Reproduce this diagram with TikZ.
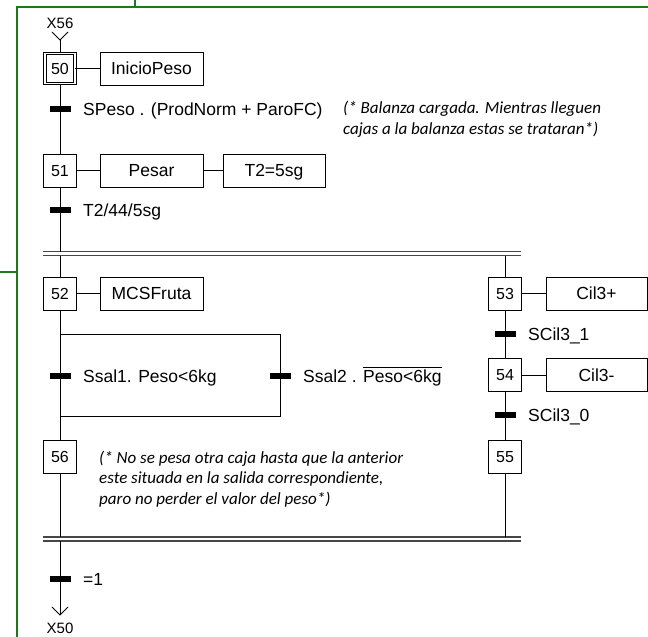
\documentclass[tikz,border=0pt]{standalone}
\usepackage{fontspec}
\setmainfont{Liberation Sans}
\newfontfamily\notefont{Carlito}
% negated variable: text with a bar over it
\newcommand\barred[1]{\leavevmode\vbox{\hrule height 0.9pt\kern1.6pt\hbox{#1}}}
\definecolor{framegreen}{RGB}{28,122,28}
\definecolor{syncgray}{RGB}{70,70,70}
\begin{document}
\begin{tikzpicture}[x=1pt,y=-1pt,
  every node/.style={font=\fontsize{17.5}{20}\selectfont},
  stepbox/.style={draw, line width=0.9pt, minimum width=33pt, minimum height=33pt, inner sep=0pt, text height=11.5pt, text depth=0pt, font=\fontsize{16}{18}\selectfont},
  initstep/.style={draw, line width=0.8pt, double, double distance=1.8pt, minimum size=30pt, inner sep=0pt, text height=11.5pt, text depth=0pt, font=\fontsize{16}{18}\selectfont},
  actbox/.style={draw, line width=0.9pt, minimum height=33pt, inner sep=0pt, text height=12.6pt, text depth=0pt},
  trans/.style={fill=black, minimum width=21pt, minimum height=5.5pt, inner sep=0pt},
  tlabel/.style={anchor=base west, inner sep=0pt},
  reflabel/.style={inner sep=0pt, font=\fontsize{15}{18}\selectfont},
  link/.style={line width=0.8pt},
  sync/.style={line width=1.3pt, draw=syncgray},
  note/.style={font=\notefont\itshape\fontsize{17}{20.5}\selectfont, align=left, inner sep=0pt, anchor=west},
  frame/.style={line width=2pt, draw=framegreen}]
\useasboundingbox (0,0) rectangle (648,637);

% enclosing frame
\draw[frame] (17,637) -- (17,7) -- (648,7);
\draw[frame] (135,0) -- (135,7);
\draw[frame] (0,272) -- (17,272);

% entry reference
\node[reflabel] (in56) at (60,23) {X56};
\coordinate (in56tip) at (60,40);
\draw[link] (52,32) -- (in56tip) -- (68,32);

% main sequence
\node[initstep] (s50) at (60,68.5) {50};
\node[actbox, minimum width=103pt] (a50) at (151.5,68.5) {InicioPeso};
\node[trans] (t1) at (60,109) {};
\node[tlabel] (l1) at (83,115) {SPeso . (ProdNorm + ParoFC)};
\node[note] (n1) at (343,119.5) {(* Balanza cargada. Mientras lleguen\\cajas a la balanza estas se trataran*)};

\node[stepbox] (s51) at (60,170.5) {51};
\node[actbox, minimum width=103pt] (a51) at (151.5,170.5) {Pesar};
\node[actbox, minimum width=102pt] (a51b) at (274,170.5) {T2=5sg};
\node[trans] (t2) at (60,210) {};
\node[tlabel] (l2) at (83,216) {T2/44/5sg};

% simultaneous divergence
\coordinate (divL1) at (60,251.5);
\coordinate (divL2) at (60,255.5);
\coordinate (divR2) at (505,255.5);
\draw[sync] (43,251.5) -- (521,251.5);
\draw[sync] (43,255.5) -- (521,255.5);

% left branch
\node[stepbox] (s52) at (60,293.5) {52};
\node[actbox, minimum width=103pt] (a52) at (151.5,293.5) {MCSFruta};
\coordinate (selL) at (60,334);
\coordinate (selR) at (280,334);
\coordinate (joinL) at (60,416);
\coordinate (joinR) at (280,416);
\node[trans] (t3) at (60,376) {};
\node[trans] (t4) at (280,376) {};
\node[tlabel] (l3) at (83,382) {Ssal1. Peso<6kg};
\node[tlabel] (l4) at (303,382) {Ssal2 . \barred{Peso<6kg}};
\node[stepbox] (s56) at (60,457) {56};
\node[note] (n2) at (99,479) {(* No se pesa otra caja hasta que la anterior\\este situada en la salida correspondiente,\\paro no perder el valor del peso*)};

% right branch
\node[stepbox] (s53) at (505,293.5) {53};
\node[actbox, minimum width=101pt] (a53) at (596.5,293.5) {Cil3+};
\node[trans] (t5) at (505,334) {};
\node[tlabel] (l5) at (528,340) {SCil3\_1};
\node[stepbox] (s54) at (505,375) {54};
\node[actbox, minimum width=101pt] (a54) at (596.5,375) {Cil3-};
\node[trans] (t6) at (505,415) {};
\node[tlabel] (l6) at (528,421) {SCil3\_0};
\node[stepbox] (s55) at (505,457) {55};

% simultaneous convergence
\coordinate (cvL1) at (60,537);
\coordinate (cvR1) at (505,537);
\coordinate (cvL2) at (60,541);
\draw[sync] (43,537) -- (521,537);
\draw[sync] (43,541) -- (521,541);

\node[trans] (t7) at (60,579) {};
\node[tlabel] (l7) at (83,585) {=1};
\coordinate (out50tip) at (60,615);
\draw[link] (52,607) -- (out50tip) -- (68,607);
\node[reflabel] (out50) at (60,628) {X50};

% connectors
\draw[link] (in56tip) -- (s50);
\draw[link] (s50) -- (t1) -- (s51) -- (t2) -- (divL1);
\draw[link] (divL2) -- (s52) -- (s56) -- (cvL1);
\draw[link] (selL) -- (selR) -- (joinR) -- (joinL);
\draw[link] (divR2) -- (s53) -- (t5) -- (s54) -- (t6) -- (s55) -- (cvR1);
\draw[link] (cvL2) -- (t7) -- (out50tip);
\draw[link] (s50) -- (a50);
\draw[link] (s51) -- (a51) -- (a51b);
\draw[link] (s52) -- (a52);
\draw[link] (s53) -- (a53);
\draw[link] (s54) -- (a54);
\end{tikzpicture}
\end{document}
